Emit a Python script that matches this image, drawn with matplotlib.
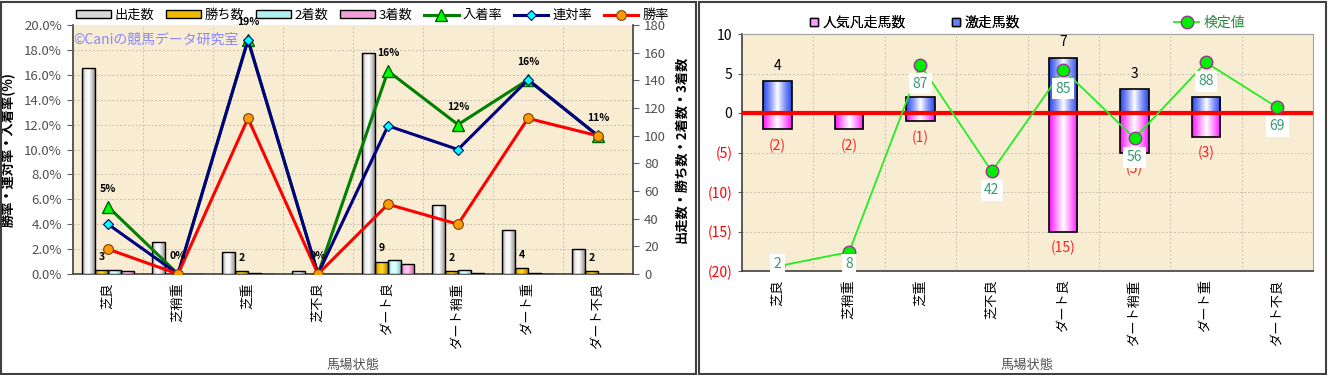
import numpy as np
import matplotlib
matplotlib.use("Agg")
import matplotlib.pyplot as plt
from matplotlib.patches import Patch, Rectangle
from matplotlib.lines import Line2D
from matplotlib.colors import LinearSegmentedColormap
from matplotlib.ticker import FuncFormatter

plt.rcParams['font.family'] = ['Noto Sans CJK JP', 'DejaVu Sans']

# ---------------- data ----------------
categories = ["芝良", "芝稍重", "芝重", "芝不良", "ダート良", "ダート稍重", "ダート重", "ダート不良"]

starts = [149, 23, 16, 2, 160, 50, 32, 18]      # 出走数
wins = [3, 0, 2, 0, 9, 2, 4, 2]                 # 勝ち数
seconds = [3, 0, 1, 0, 10, 3, 1, 0]             # 2着数
thirds = [2, 0, 0, 0, 7, 1, 0, 0]               # 3着数

win_rate = [2.0, 0.0, 12.5, 0.0, 5.6, 4.0, 12.5, 11.1]      # 勝率 %
rentai_rate = [4.0, 0.0, 18.8, 0.0, 11.9, 10.0, 15.6, 11.1] # 連対率 %
place_rate = [5.4, 0.0, 18.8, 0.0, 16.3, 12.0, 15.6, 11.1]  # 入着率 %
place_labels = ["5%", "0%", "19%", "0%", "16%", "12%", "16%", "11%"]

gekisou = [4, 0, 2, 0, 7, 3, 2, 0]              # 激走馬数
bonsou = [-2, -2, -1, 0, -15, -5, -3, 0]        # 人気凡走馬数
kentei = [2, 8, 87, 42, 85, 56, 88, 69]         # 検定値

W, H = 1328, 375
fig = plt.figure(figsize=(W / 100, H / 100), dpi=100)
fig.patch.set_facecolor('white')

# panel frames
fig.add_artist(Rectangle((1 / W, 1 / H), 695 / W, 372 / H, transform=fig.transFigure,
                         fill=False, ec='#404040', lw=1.5))
fig.add_artist(Rectangle((699 / W, 1 / H), 627 / W, 372 / H, transform=fig.transFigure,
                         fill=False, ec='#404040', lw=1.5))


def grad_fill(ax, rect, colors):
    x, y = rect.get_x(), rect.get_y()
    w, h = rect.get_width(), rect.get_height()
    if h == 0:
        return
    cmap = LinearSegmentedColormap.from_list('g', colors)
    img = ax.imshow(np.linspace(0, 1, 64).reshape(1, -1), cmap=cmap,
                    extent=[x, x + w, min(y, y + h), max(y, y + h)],
                    aspect='auto', origin='lower', zorder=rect.get_zorder() - 0.01,
                    interpolation='bilinear')
    img.set_clip_path(rect)
    rect.set_facecolor('none')


PLOT_BG = '#f8ecd2'
GRID_C = '#c8c0b0'

# ================= LEFT CHART =================
axL = fig.add_axes([73 / W, (H - 274) / H, 560 / W, 249 / H])
axL.set_facecolor(PLOT_BG)
x = np.arange(len(categories))
bw = 0.186

bar_specs = [
    (starts, -1.5, ['#8a8a8a', '#f0f0f0', '#ffffff', '#c4c4c4', '#808080'], '#d8d8d8', "出走数"),
    (wins, -0.5, ['#b88400', '#f5c000', '#ffd840', '#e0a800', '#a87800'], '#f0b800', "勝ち数"),
    (seconds, 0.5, ['#70c0c0', '#d0ffff', '#e8ffff', '#a8e8e8', '#70b8b8'], '#b0f0f0', "2着数"),
    (thirds, 1.5, ['#c060a0', '#ffb8e8', '#ffc8ee', '#f090d0', '#c060a0'], '#f0a0d8', "3着数"),
]
legend_handles = []
for vals, off, cols, solid, name in bar_specs:
    bars = axL.bar(x + off * bw, vals, width=bw, edgecolor='black', linewidth=1.0, zorder=3)
    for r in bars:
        grad_fill(axL, r, cols)
    legend_handles.append(Patch(facecolor=solid, edgecolor='black', linewidth=1.0, label=name))

axL.set_xlim(-0.5, len(categories) - 0.5)
axL.set_ylim(0, 180)
axL.set_yticks(np.arange(0, 181, 20))
axL.set_xticks(x)
axL.set_xticklabels(categories, rotation=90, va='top', ha='center', fontsize=9.5)
axL.tick_params(axis='x', length=0, pad=6)
axL.set_xlabel("馬場状態", fontsize=9.5, color='#505050')
axL.xaxis.set_label_coords(0.5, -0.34)

for k in range(1, 10):
    axL.axhline(k * 18, color=GRID_C, lw=0.7, ls=(0, (2, 2)), zorder=1)
for k in range(1, len(categories)):
    axL.axvline(k - 0.5, color=GRID_C, lw=0.7, ls=(0, (2, 2)), zorder=1)

for sp in ['left', 'bottom', 'right']:
    axL.spines[sp].set_color('#404040')
    axL.spines[sp].set_linewidth(1.2)
axL.spines['top'].set_visible(False)

# win count labels
for i, wv in enumerate(wins):
    if wv > 0:
        axL.annotate(str(wv), (x[i] - 0.5 * bw, wv), xytext=(0, 6), textcoords='offset points',
                     ha='center', va='bottom', fontsize=7.5, fontweight='bold', zorder=6)

axR2 = axL.twinx()
# counts on the right, rates on the left
axL.yaxis.tick_right()
axL.yaxis.set_label_position('right')
axL.tick_params(axis='y', labelsize=9.5, labelcolor='#505050', color='#606060', length=4, pad=4)
axL.set_ylabel("出走数・勝ち数・2着数・3着数", fontsize=9.5, rotation=90, labelpad=6, fontweight='bold')
axR2.yaxis.tick_left()
axR2.yaxis.set_label_position('left')
axR2.set_ylim(0, 20)
axR2.set_yticks(np.arange(0, 20.1, 2))
axR2.yaxis.set_major_formatter(FuncFormatter(lambda v, p: f"{v:.1f}%"))
axR2.tick_params(axis='y', labelsize=9.5, labelcolor='#505050', color='#606060', length=4, pad=4)
axR2.set_ylabel("勝率・連対率・入着率(%)", fontsize=9.5, rotation=90, labelpad=6, fontweight='bold')
for sp in axR2.spines.values():
    sp.set_visible(False)
axR2.patch.set_visible(False)

l1, = axR2.plot(x, place_rate, color='#008000', lw=2.2, marker='^', ms=8,
                mfc='#00ff00', mec='#006000', mew=1, zorder=4, label="入着率")
l2, = axR2.plot(x, rentai_rate, color='#000080', lw=2.2, marker='D', ms=5,
                mfc='#00ffff', mec='#000080', mew=0.8, zorder=5, label="連対率")
l3, = axR2.plot(x, win_rate, color='#ff0000', lw=2.2, marker='o', ms=7,
                mfc='#ff9900', mec='#804000', mew=0.8, zorder=6, label="勝率")
for i, lab in enumerate(place_labels):
    top = max(place_rate[i], rentai_rate[i], win_rate[i])
    axR2.annotate(lab, (x[i], top), xytext=(0, 13), textcoords='offset points',
                  ha='center', va='center', fontsize=7.5, fontweight='bold', zorder=7)

axR2.text(-0.5, 18.8, "©Caniの競馬データ研究室", fontsize=10, color='#8888ff',
          ha='left', va='center', zorder=8)

legend_handles += [l1, l2, l3]
axR2.legend(handles=legend_handles, loc='lower center', bbox_to_anchor=(0.535, 0.985), ncol=7,
            frameon=False, fontsize=9.5, handlelength=2.6, handleheight=0.55,
            columnspacing=0.9, handletextpad=0.3, borderaxespad=0.1)

# ================= RIGHT CHART =================
axB = fig.add_axes([742 / W, (H - 271) / H, 571 / W, 237 / H])
axB.set_facecolor(PLOT_BG)
bw2 = 0.4
bars_pos = axB.bar(x, gekisou, width=bw2, edgecolor='black', linewidth=1.2, zorder=3)
bars_neg = axB.bar(x, bonsou, width=bw2, edgecolor='black', linewidth=1.2, zorder=3)
for r in bars_pos:
    grad_fill(axB, r, ['#2848e8', '#8898f8', '#ffffff', '#8898f8', '#2848e8'])
for r in bars_neg:
    grad_fill(axB, r, ['#ff10ff', '#ff90ff', '#ffffff', '#ff90ff', '#ff10ff'])
axB.set_xlim(-0.5, len(categories) - 0.5)
axB.set_ylim(-20, 10)
axB.axhline(0, color='#ff0000', lw=3, zorder=4)
yt = np.arange(-20, 11, 5)
axB.set_yticks(yt)
axB.set_yticklabels([str(v) if v >= 0 else f"({-v})" for v in yt], fontsize=10)
for t, v in zip(axB.get_yticklabels(), yt):
    t.set_color('black' if v >= 0 else '#ff0000')
axB.tick_params(axis='y', length=3, color='#606060', pad=4)
axB.set_xticks(x)
axB.set_xticklabels(categories, rotation=90, va='top', ha='center', fontsize=9.5)
axB.tick_params(axis='x', length=0, pad=6)
axB.set_xlabel("馬場状態", fontsize=9.5, color='#505050')
axB.xaxis.set_label_coords(0.5, -0.37)
for k in range(-15, 10, 5):
    axB.axhline(k, color=GRID_C, lw=0.7, ls=(0, (2, 2)), zorder=1)
for k in range(1, len(categories)):
    axB.axvline(k - 0.5, color=GRID_C, lw=0.7, ls=(0, (2, 2)), zorder=1)
axB.spines['left'].set_color('#404040')
axB.spines['bottom'].set_color('#404040')
axB.spines['left'].set_linewidth(1.2)
axB.spines['bottom'].set_linewidth(1.2)
axB.spines['top'].set_color('#a0a0a0')
axB.spines['right'].set_color('#a0a0a0')

# 検定値 is drawn on a hidden 0-100 scale that maps onto -20..10 of the bar axis
k_label_y = [max(v - 8.0, 2.8) for v in kentei]
for i in range(len(categories)):
    if gekisou[i] > 0:
        gy = gekisou[i] + 1.9
        ky = -20 + 0.3 * k_label_y[i]
        if abs(gy - ky) > 2.0:   # otherwise fully hidden under the 検定値 label, as in the source
            axB.annotate(str(gekisou[i]), (x[i], gekisou[i]), xytext=(0, 11), textcoords='offset points',
                         ha='center', va='center', fontsize=10, zorder=5)
    if bonsou[i] < 0:
        axB.annotate(f"({-bonsou[i]})", (x[i], bonsou[i]), xytext=(0, -12), textcoords='offset points',
                     ha='center', va='center', fontsize=10, color='#ff2020', zorder=5)

axK = axB.twinx()
axK.set_ylim(0, 100)
axK.set_yticks([])
for sp in axK.spines.values():
    sp.set_visible(False)
axK.patch.set_visible(False)
lk, = axK.plot(x, kentei, color='#22ee22', lw=1.3, marker='o', ms=9, mfc='#00ee00',
               mec='#993399', mew=1.0, zorder=5, label="検定値")
for i, v in enumerate(kentei):
    axK.text(x[i], k_label_y[i], str(v), ha='center', va='center', fontsize=10, color='#3a9a70', zorder=7,
             bbox=dict(boxstyle='square,pad=0.25', fc='white', ec='none'))

h1 = Line2D([], [], ls='none', marker='s', ms=6, mfc='#ff99ff', mec='black', mew=1, label="人気凡走馬数")
h2 = Line2D([], [], ls='none', marker='s', ms=6, mfc='#6880ff', mec='black', mew=1, label="激走馬数")
leg1 = axB.legend(handles=[h1, h2], loc='lower left', bbox_to_anchor=(0.105, 0.99), ncol=2,
                  frameon=False, fontsize=10, handlelength=0.8, handletextpad=0.2, columnspacing=3.2,
                  borderaxespad=0.1)
axB.add_artist(leg1)
leg2 = axK.legend(handles=[lk], loc='lower left', bbox_to_anchor=(0.745, 0.99), frameon=False,
                  fontsize=10, handlelength=1.8, handletextpad=0.3, borderaxespad=0.1)
for t in leg2.get_texts():
    t.set_color('#2a8a40')

fig.savefig("out.png", dpi=100, facecolor='white')
